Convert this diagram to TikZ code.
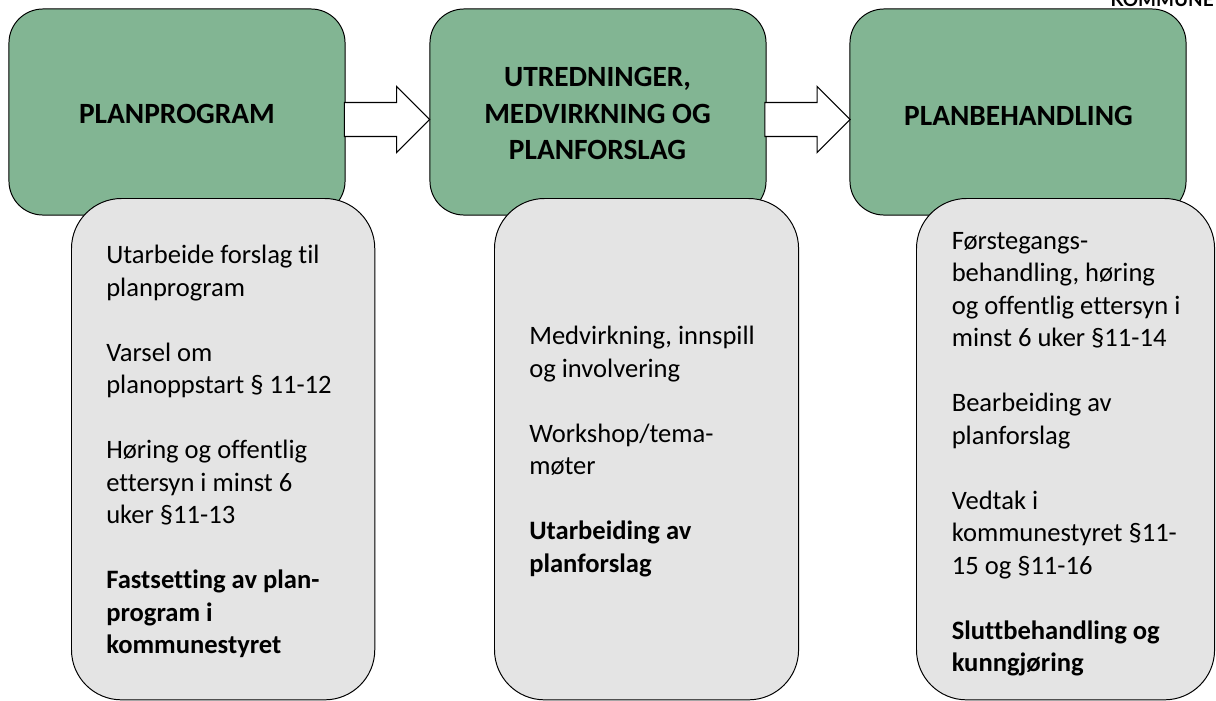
\documentclass[tikz,border=0pt]{standalone}
\usepackage{fontspec}
\setmainfont[Ligatures=NoCommon]{Carlito}
\newfontfamily\logofont{Lato}
\usetikzlibrary{shapes.arrows}
\definecolor{planGreen}{HTML}{82B593}
\definecolor{planGray}{HTML}{E4E4E4}
\tikzset{
  phase/.style={draw=black, line width=0.7pt, fill=planGreen, rounded corners=0.85cm,
    minimum width=8.4cm, minimum height=5.15cm},
  phasetext/.style={align=center, inner sep=0pt,
    font=\fontsize{20.9}{25.7}\selectfont\bfseries},
  tasks/.style={draw=black, line width=0.7pt, fill=planGray, rounded corners=1.25cm,
    minimum height=12.53cm, anchor=north west, inner sep=0pt},
  tasktext/.style={anchor=north west, align=left, inner sep=0pt,
    font=\fontsize{18.9}{23.12}\selectfont},
  blockarrow/.style={draw=black, line width=0.8pt, fill=white, single arrow, inner sep=0pt,
    single arrow head extend=0.4cm, single arrow tip angle=90,
    minimum height=2.13cm, minimum width=1.61cm, text height=0.82cm, text width=1cm}
}
\begin{document}
\begin{tikzpicture}[x=0.025cm, y=-0.025cm]
  \useasboundingbox (0, 0) rectangle (1216, 700);
  \node[anchor=base east, inner sep=0pt, font=\logofont\fontsize{13.5}{16}\selectfont\bfseries] (logo) at (1214, 6.5) {KOMMUNE};

  \node[phase] (planprogram) at (177, 112) {};
  \node[phase] (utredninger) at (598, 112) {};
  \node[phase] (planbehandling) at (1018, 112) {};
  \node[phasetext] (planprogramtext) at (177, 114) {PLANPROGRAM};
  \node[phasetext] (utredningertext) at (597.5, 113.5) {UTREDNINGER,\\MEDVIRKNING OG\\PLANFORSLAG};
  \node[phasetext] (planbehandlingtext) at (1018.5, 116) {PLANBEHANDLING};

  \node[blockarrow] (arrowone) at (378.5, 119.5) {};
  \node[blockarrow] (arrowtwo) at (799, 119.5) {};

  \node[tasks, minimum width=7.58cm] (tasksone) at (71, 198) {};
  \node[tasks, minimum width=7.6cm] (taskstwo) at (494, 198) {};
  \node[tasks, minimum width=7.45cm] (tasksthree) at (916, 198) {};

  \node[tasktext] (textone) at (106, 245)
    {Utarbeide forslag til\\planprogram\\~\\Varsel om\\planoppstart § 11-12\\~\\Høring og offentlig\\ettersyn i minst 6\\uker §11-13\\~\\\textbf{Fastsetting av plan-}\\\textbf{program i}\\\textbf{kommunestyret}};
  \node[tasktext] (texttwo) at (529, 326)
    {Medvirkning, innspill\\og involvering\\~\\Workshop/tema-\\møter\\~\\\textbf{Utarbeiding av}\\\textbf{planforslag}};
  \node[tasktext] (textthree) at (951.5, 232)
    {Førstegangs-\\behandling, høring\\og offentlig ettersyn i\\minst 6 uker §11-14\\~\\Bearbeiding av\\planforslag\\~\\Vedtak i\\kommunestyret §11-\\15 og §11-16\\~\\\textbf{Sluttbehandling og}\\\textbf{kunngjøring}};
\end{tikzpicture}
\end{document}
